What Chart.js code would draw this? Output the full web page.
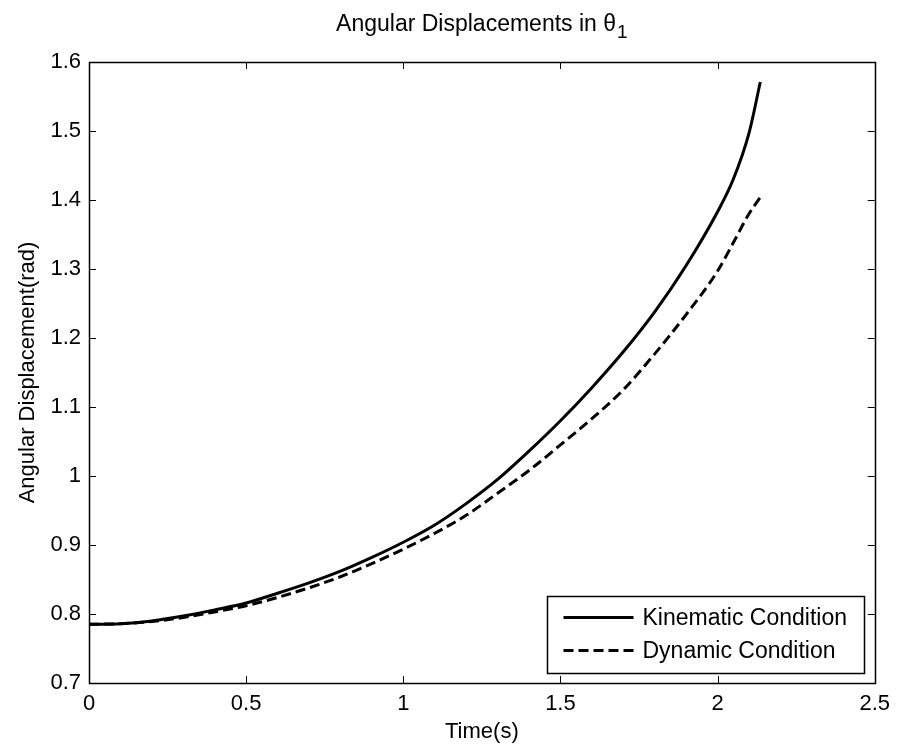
<!DOCTYPE html>
<html>
<head>
<meta charset="utf-8">
<script src="https://cdn.jsdelivr.net/npm/chart.js@4.4.1/dist/chart.umd.min.js"></script>
<style>
    html, body { margin: 0; padding: 0; background: #fff; }
    #thetaChart { display: block; }
</style>
</head>
<body>
<canvas id="thetaChart" width="898" height="749"></canvas>
<script>
// time samples (s) and angles (rad)
const timeS = [0, 0.1, 0.2, 0.3, 0.4, 0.5, 0.6, 0.7, 0.8, 0.9, 1.0, 1.1, 1.2, 1.3, 1.4, 1.5, 1.6, 1.7, 1.8, 1.9, 2.0, 2.05, 2.1, 2.136];
const kinematic = [0.785, 0.786, 0.790, 0.797, 0.806, 0.816, 0.830, 0.845, 0.862, 0.882, 0.904, 0.929, 0.960, 0.995, 1.036, 1.080, 1.128, 1.180, 1.238, 1.305, 1.383, 1.430, 1.497, 1.571];
const dynamic = [0.785, 0.786, 0.789, 0.795, 0.803, 0.812, 0.824, 0.838, 0.854, 0.873, 0.894, 0.917, 0.943, 0.975, 1.008, 1.045, 1.083, 1.125, 1.177, 1.234, 1.297, 1.338, 1.380, 1.404];
const seriesNames = ["Kinematic Condition", "Dynamic Condition"];
const xTicks = [0, 0.5, 1, 1.5, 2, 2.5];
const yTicks = [0.7, 0.8, 0.9, 1, 1.1, 1.2, 1.3, 1.4, 1.5, 1.6];

const FONT = "'Liberation Sans', Arial, sans-serif";

function toPoints(xs, ys){
    return xs.map((x, i) => ({ x: x, y: ys[i] }));
}

function fmt(v){
    return String(Math.round(v * 10) / 10);
}

// title with a real subscript, like the matlab one
const titlePlugin = {
    id: "titlePlugin",
    afterDraw(chart){
        const { ctx, chartArea: a } = chart;
        const main = "Angular Displacements in θ";
        const sub = "1";
        ctx.save();
        ctx.fillStyle = "#000";
        ctx.textBaseline = "middle";
        ctx.font = "23px " + FONT;
        const w1 = ctx.measureText(main).width;
        ctx.font = "19px " + FONT;
        const w2 = ctx.measureText(sub).width;
        const x0 = (a.left + a.right) / 2 - (w1 + w2 + 1) / 2;
        ctx.font = "23px " + FONT;
        ctx.fillText(main, x0, 25);
        ctx.font = "19px " + FONT;
        ctx.fillText(sub, x0 + w1 + 1, 33);
        ctx.restore();
    }
};

// matlab style box with inward ticks on all four sides
const boxPlugin = {
    id: "boxPlugin",
    afterDraw(chart){
        const { ctx, chartArea: a, scales } = chart;
        const len = 7;
        ctx.save();
        ctx.strokeStyle = "#000";
        ctx.lineWidth = 1;
        ctx.beginPath();
        xTicks.forEach((t) => {
            const px = Math.round(scales.x.getPixelForValue(t)) + 0.5;
            ctx.moveTo(px, a.bottom); ctx.lineTo(px, a.bottom - len);
            ctx.moveTo(px, a.top); ctx.lineTo(px, a.top + len);
        });
        yTicks.forEach((t) => {
            const py = Math.round(scales.y.getPixelForValue(t)) + 0.5;
            ctx.moveTo(a.left, py); ctx.lineTo(a.left + len, py);
            ctx.moveTo(a.right, py); ctx.lineTo(a.right - len, py);
        });
        ctx.stroke();
        ctx.lineWidth = 1.5;
        ctx.strokeRect(Math.round(a.left) + 0.5, Math.round(a.top) + 0.5, Math.round(a.right - a.left), Math.round(a.bottom - a.top));
        ctx.restore();
    }
};

// legend box in the lower right corner of the axes
const cornerLegend = {
    id: "cornerLegend",
    afterDraw(chart){
        const { ctx, chartArea: a } = chart;
        const w = 317, h = 77;
        const x0 = Math.round(a.right - 11 - w) + 0.5;
        const y0 = Math.round(a.bottom - 10 - h) + 0.5;
        ctx.save();
        ctx.fillStyle = "#fff";
        ctx.fillRect(x0, y0, w, h);
        ctx.strokeStyle = "#000";
        ctx.lineWidth = 1.5;
        ctx.strokeRect(x0, y0, w, h);
        ctx.font = "23px " + FONT;
        ctx.textBaseline = "middle";
        chart.data.datasets.forEach((ds, i) => {
            const cy = y0 + 21 + i * 33;
            ctx.beginPath();
            ctx.lineWidth = ds.borderWidth;
            ctx.setLineDash(ds.borderDash || []);
            ctx.moveTo(x0 + 16, cy);
            ctx.lineTo(x0 + 86, cy);
            ctx.stroke();
            ctx.setLineDash([]);
            ctx.fillStyle = "#000";
            ctx.fillText(ds.label, x0 + 95, cy + 1);
        });
        ctx.restore();
    }
};

const ctx = document.getElementById("thetaChart").getContext("2d");
new Chart(ctx, {
    type: "line",
    data: {
        datasets: [
            {
                label: seriesNames[0],
                data: toPoints(timeS, kinematic),
                borderColor: "#000",
                borderWidth: 3,
                pointRadius: 0,
                cubicInterpolationMode: "monotone",
                fill: false
            },
            {
                label: seriesNames[1],
                data: toPoints(timeS, dynamic),
                borderColor: "#000",
                borderWidth: 3,
                borderDash: [10, 5],
                pointRadius: 0,
                cubicInterpolationMode: "monotone",
                fill: false
            }
        ]
    },
    options: {
        responsive: false,
        animation: false,
        layout: { padding: { left: 0, right: 21, top: 62, bottom: 0 } },
        plugins: {
            legend: { display: false },
            tooltip: { enabled: false },
            title: { display: false }
        },
        scales: {
            x: {
                type: "linear",
                min: 0,
                max: 2.5,
                afterBuildTicks: (s) => { s.ticks = xTicks.map((v) => ({ value: v })); },
                afterFit: (s) => { s.height = 66; },
                grid: { display: false, drawTicks: false },
                border: { display: false },
                ticks: { color: "#000", font: { family: FONT, size: 22 }, padding: 8, callback: fmt, maxRotation: 0 },
                title: { display: true, text: "Time(s)", color: "#000", font: { family: FONT, size: 22 }, padding: { top: 0, bottom: 4 } }
            },
            y: {
                type: "linear",
                min: 0.7,
                max: 1.6,
                afterBuildTicks: (s) => { s.ticks = yTicks.map((v) => ({ value: v })); },
                afterFit: (s) => { s.width = 89; },
                grid: { display: false, drawTicks: false },
                border: { display: false },
                ticks: { color: "#000", font: { family: FONT, size: 22 }, padding: 8, callback: fmt },
                title: { display: true, text: "Angular Displacement(rad)", color: "#000", font: { family: FONT, size: 22 }, padding: { top: 15, bottom: 0 } }
            }
        }
    },
    plugins: [boxPlugin, cornerLegend, titlePlugin]
});
</script>
</body>
</html>
